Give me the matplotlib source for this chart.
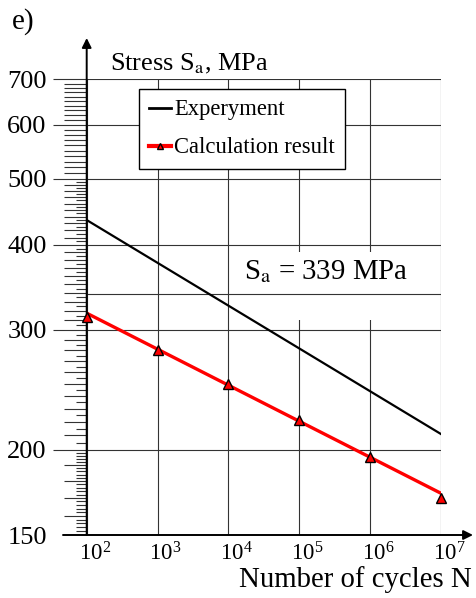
import matplotlib.pyplot as plt
import matplotlib.transforms as mtransforms
from matplotlib.lines import Line2D
from matplotlib.patches import Rectangle
from matplotlib.ticker import FixedLocator, LogFormatterMathtext, NullFormatter, NullLocator

plt.rcParams["font.family"] = "Liberation Serif"
plt.rcParams["mathtext.fontset"] = "stix"

# S-N data
cycles = [1e2, 1e3, 1e4, 1e5, 1e6, 1e7]
calc_points = [313, 280, 250, 221, 195, 170]
calc_line_n = [1e2, 1e7]
calc_line_s = [317.5, 172.7]
exp_line_n = [1e2, 1e7]
exp_line_s = [435, 211]
endurance_limit = 339

y_major = [150, 200, 300, 400, 500, 600, 700]
y_minor_long = [v for v in range(160, 700, 10) if v not in y_major]
y_minor_short = list(range(205, 500, 10)) + [v for v in range(152, 200, 2) if v % 10]

W, H = 476, 598
fig = plt.figure(figsize=(W / 100, H / 100), dpi=100)
left, right, bottom, top = 86.7, 441, 535, 79.3
pos = [left / W, 1 - bottom / H, (right - left) / W, (bottom - top) / H]
ax = fig.add_axes(pos)

# second axes only carries the short minor ticks on the stress axis
ax2 = fig.add_axes(pos, frameon=False)
ax2.set_yscale("log")
ax2.set_ylim(150, 700)
ax2.xaxis.set_visible(False)
ax2.yaxis.set_major_locator(NullLocator())
ax2.yaxis.set_minor_locator(FixedLocator(y_minor_short))
ax2.yaxis.set_minor_formatter(NullFormatter())
ax2.tick_params(axis="y", which="minor", length=8, width=0.8, color="#333333")
ax2.patch.set_visible(False)
ax2.set_zorder(0)
ax.set_zorder(1)

ax.set_xscale("log")
ax.set_yscale("log")
ax.set_xlim(1e2, 1e7)
ax.set_ylim(150, 700)
for s in ax.spines.values():
    s.set_visible(False)
ax.patch.set_visible(False)

ax.set_axisbelow(True)
ax.xaxis.set_major_locator(FixedLocator(cycles))
ax.xaxis.set_minor_locator(NullLocator())
ax.xaxis.set_major_formatter(LogFormatterMathtext())
ax.yaxis.set_major_locator(FixedLocator(y_major))
ax.yaxis.set_major_formatter(lambda v, p: f"{v:.0f}")
ax.yaxis.set_minor_locator(FixedLocator(y_minor_long))
ax.yaxis.set_minor_formatter(NullFormatter())
ax.grid(True, which="major", color="#333333", linewidth=0.8)
ax.tick_params(axis="x", length=0, pad=5, labelsize=16.5)
ax.tick_params(axis="y", which="major", length=24.3, width=0.8, color="#333333",
               pad=4.5, labelsize=19)
ax.tick_params(axis="y", which="minor", length=16.6, width=0.8, color="#333333")
ax.yaxis.get_major_ticks()[0].tick1line.set_visible(False)

shift = mtransforms.ScaledTranslation(8 / 100, 0, fig.dpi_scale_trans)
for lab in ax.get_xticklabels():
    lab.set_transform(lab.get_transform() + shift)

# white panel behind the endurance-limit label
ax.add_patch(Rectangle((0.41, 0.472), 0.579, 0.149, transform=ax.transAxes,
                       facecolor="white", edgecolor="none", zorder=1))
ax.axhline(endurance_limit, color="#333333", linewidth=0.8, zorder=1.5)
ax.text(0.444, 0.5618, r"S$_\mathrm{a}$ = 339 MPa", transform=ax.transAxes,
        fontsize=20.8, ha="left", va="baseline", zorder=3)

ax.plot(exp_line_n, exp_line_s, color="black", linewidth=1.6, zorder=3)
ax.plot(calc_line_n, calc_line_s, color="red", linewidth=2.4, zorder=3)
ax.plot(cycles, calc_points, linestyle="none", marker="^", markersize=6.5,
        markerfacecolor="red", markeredgecolor="black", markeredgewidth=1.0,
        zorder=4, clip_on=False)

# axis lines with arrow heads
arrow = dict(arrowstyle="-|>", color="black", linewidth=1.4, mutation_scale=14,
             shrinkA=0, shrinkB=0)
ax.annotate("", xy=(0, 1.0906), xytext=(0, 0), xycoords="axes fraction",
            textcoords="axes fraction", arrowprops=arrow, annotation_clip=False)
ax.annotate("", xy=(1.0903, 0), xytext=(-0.0669, 0), xycoords="axes fraction",
            textcoords="axes fraction", arrowprops=arrow, annotation_clip=False)

handles = [
    Line2D([0], [0], color="black", linewidth=2.0),
    Line2D([0], [0], color="red", linewidth=3.0, marker="^", markersize=5,
           markerfacecolor="red", markeredgecolor="black"),
]
leg = ax.legend(handles, ["Experyment", "Calculation result"], loc="upper left",
                bbox_to_anchor=(139 / W, 1 - 89.3 / H), bbox_transform=fig.transFigure,
                fontsize=16.3, frameon=True, fancybox=False, edgecolor="black",
                framealpha=1, borderaxespad=0, handlelength=0.95,
                handletextpad=0.15, borderpad=0.45, labelspacing=0.75, numpoints=1)
leg.get_frame().set_linewidth(1.0)

fig.text(110 / W, 1 - 70 / H, r"Stress S$_\mathrm{a}$, MPa", fontsize=19,
         ha="left", va="baseline")
fig.text(472 / W, 1 - 587 / H, "Number of cycles N", fontsize=20.7,
         ha="right", va="baseline")
fig.text(12 / W, 1 - 29 / H, "e)", fontsize=21, ha="left", va="baseline")

fig.savefig("out.png", dpi=100)
